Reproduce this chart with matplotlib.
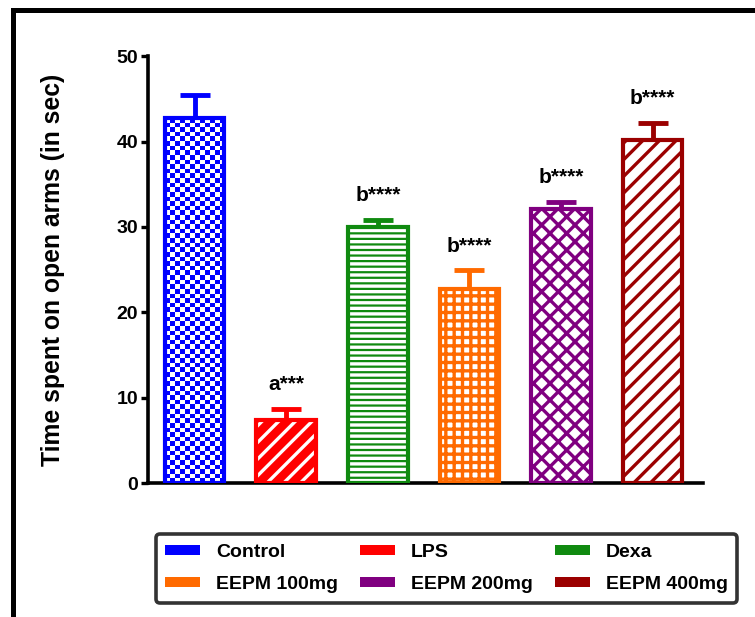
import numpy as np
import matplotlib
matplotlib.use("Agg")
import matplotlib.pyplot as plt
from matplotlib.patches import Rectangle, Patch
from matplotlib.colors import ListedColormap

plt.rcParams['font.family'] = ['Liberation Sans', 'DejaVu Sans']
plt.rcParams['hatch.linewidth'] = 2.4

groups = ['Control', 'LPS', 'Dexa', 'EEPM 100mg', 'EEPM 200mg', 'EEPM 400mg']
means = [42.7, 7.4, 30.0, 22.7, 32.1, 40.2]
sems = [2.8, 1.3, 0.8, 2.2, 0.8, 2.0]
labels = ['', 'a***', 'b****', 'b****', 'b****', 'b****']
colors = ['#0000ff', '#ff0000', '#108a10', '#ff6a00', '#800080', '#9b0000']

fig = plt.figure(figsize=(7.55, 6.17), dpi=100)
ax = fig.add_axes([0.196, 0.217, 0.735, 0.692])

x = np.arange(len(groups))
w = 0.65

# fill for each bar: (face, hatch colour, hatch)
styles = [
    None,
    ('#ff0000', 'white', '//'),
    ('#108a10', 'white', '---'),
    ('white', '#ff6a00', '++'),
    ('white', '#800080', 'xx'),
    ('white', '#9b0000', '//'),
]

ax.set_xlim(-0.51, 5.55)
ax.set_ylim(0, 50)

for i, (m, c) in enumerate(zip(means, colors)):
    st = styles[i]
    if st is None:
        # checkerboard fill clipped to the bar
        outline = ax.bar(x[i], m, w, color='none', edgecolor=c, linewidth=3, zorder=3)[0]
        nrow = int(round(m * 8.54 / 4.6))
        board = (np.indices((nrow, 12)).sum(axis=0) % 2).astype(float)
        im = ax.imshow(board, cmap=ListedColormap(['white', c]),
                       extent=(x[i] - w / 2, x[i] + w / 2, 0, m),
                       aspect='auto', interpolation='nearest', zorder=2)
        im.set_clip_path(outline)
    else:
        face, hc, hatch = st
        ax.bar(x[i], m, w, color=face, edgecolor='none', zorder=2)
        ax.bar(x[i], m, w, color='none', edgecolor=hc, hatch=hatch, linewidth=0, zorder=2)
        ax.bar(x[i], m, w, color='none', edgecolor=c, linewidth=3, zorder=3)
    ax.errorbar(x[i], m, yerr=[[0], [sems[i]]], fmt='none', ecolor=c, elinewidth=3.5,
                capsize=11, capthick=3.5, zorder=1)
    if labels[i]:
        ax.text(x[i], m + sems[i] + 2.2, labels[i], ha='center', va='baseline',
                fontsize=15, fontweight='bold')

ax.set_yticks([0, 10, 20, 30, 40, 50])
ax.set_xticks([])
ax.tick_params(axis='y', labelsize=14, width=2.4, length=5, pad=2)
for lab in ax.get_yticklabels():
    lab.set_fontweight('bold')
for s in ['top', 'right']:
    ax.spines[s].set_visible(False)
for s in ['left', 'bottom']:
    ax.spines[s].set_linewidth(2.6)
ax.set_ylabel('Time spent on open arms (in sec)', fontsize=17.8, fontweight='bold', va='center')
ax.yaxis.set_label_coords(-0.171, 0.5)

handles = [Patch(facecolor=c, edgecolor='none') for c in colors]
order = [0, 3, 1, 4, 2, 5]
leg = fig.legend([handles[k] for k in order], [groups[k] for k in order], ncol=3,
                 loc='center', bbox_to_anchor=(146 / 755, 1 - 605 / 617, 601 / 755, 73 / 617),
                 mode='expand', prop={'size': 14, 'weight': 'bold'},
                 handlelength=1.8, handleheight=0.4, handletextpad=0.8,
                 columnspacing=0.5, labelspacing=0.8, borderpad=0.5,
                 frameon=True, fancybox=True)
leg.get_frame().set_edgecolor('black')
leg.get_frame().set_linewidth(2.6)

# outer frame round the figure
fig.patches.append(Rectangle((12.5 / 755, -0.2), 1.2, 0.2 + 1 - 9.5 / 617, fill=False,
                             edgecolor='black', linewidth=3.6, transform=fig.transFigure))

fig.savefig('out.png', dpi=100)
